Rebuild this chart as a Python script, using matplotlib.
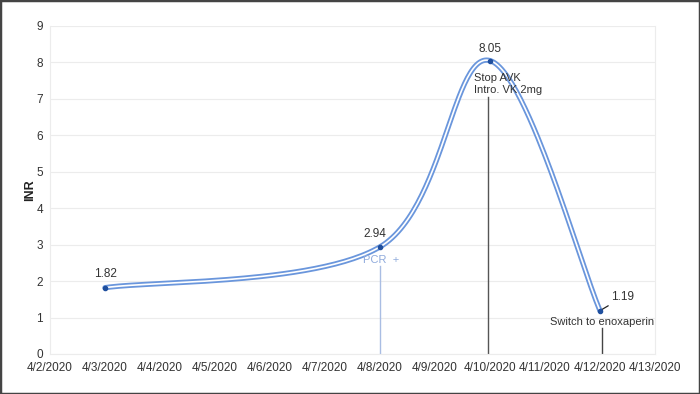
import numpy as np
import matplotlib.pyplot as plt
from matplotlib.patches import Rectangle

plt.rcParams['font.family'] = ['Liberation Sans', 'DejaVu Sans']

# data
days = [1, 6, 8, 10]          # day index, 0 = 4/2/2020
inr = [1.82, 2.94, 8.05, 1.19]
tick_labels = ['4/2/2020', '4/3/2020', '4/4/2020', '4/5/2020', '4/6/2020', '4/7/2020',
               '4/8/2020', '4/9/2020', '4/10/2020', '4/11/2020', '4/12/2020', '4/13/2020']


def smooth(xs, ys, n=60):
    # Catmull-Rom style smoothing like a spreadsheet "smoothed line"
    px = [xs[0]] + list(xs) + [xs[-1]]
    py = [ys[0]] + list(ys) + [ys[-1]]
    ox, oy = [], []
    t = np.linspace(0, 1, n)
    for i in range(1, len(px) - 2):
        p0 = np.array([px[i], py[i]])
        p3 = np.array([px[i + 1], py[i + 1]])
        c1 = p0 + (np.array([px[i + 1], py[i + 1]]) - np.array([px[i - 1], py[i - 1]])) / 6
        c2 = p3 - (np.array([px[i + 2], py[i + 2]]) - np.array([px[i], py[i]])) / 6
        b = (np.outer((1 - t) ** 3, p0) + np.outer(3 * (1 - t) ** 2 * t, c1)
             + np.outer(3 * (1 - t) * t ** 2, c2) + np.outer(t ** 3, p3))
        ox.extend(b[:, 0]); oy.extend(b[:, 1])
    return np.array(ox), np.array(oy)


fig = plt.figure(figsize=(7, 3.94), dpi=100)
ax = fig.add_axes([50 / 700, 40 / 394, 605 / 700, 328 / 394])

sx, sy = smooth(days, inr)
ax.plot(sx, sy, color='#6a96dc', lw=3.8, solid_capstyle='round', zorder=3)
ax.plot(sx, sy, color='white', lw=1.2, zorder=4)
ax.plot(days, inr, 'o', color='#1f4f9e', ms=3, zorder=5)

fs = 8.5
# value labels
ax.text(days[0], inr[0] + 0.2, '1.82', ha='center', va='bottom', fontsize=fs, color='#333333')
ax.text(days[1] - 0.1, inr[1] + 0.2, '2.94', ha='center', va='bottom', fontsize=fs, color='#333333')
ax.text(days[2], inr[2] + 0.15, '8.05', ha='center', va='bottom', fontsize=fs, color='#333333')
ax.annotate('1.19', xy=(days[3], inr[3]), xytext=(days[3] + 0.2, inr[3] + 0.2),
            ha='left', va='bottom', fontsize=fs, color='#333333',
            arrowprops=dict(arrowstyle='-', color='#222222', lw=0.9, shrinkA=0, shrinkB=0))

# event annotations
ax.text(days[1] + 0.02, 2.58, 'PCR  +', ha='center', va='center', fontsize=8, color='#8faadc')
ax.plot([days[1], days[1]], [0, 2.42], color='#a9bde3', lw=1.0, zorder=2)

ax.text(days[2] - 0.3, 7.42, 'Stop AVK\nIntro. VK 2mg', ha='left', va='center', fontsize=8,
        color='#333333', linespacing=1.25, zorder=6)
ax.plot([days[2] - 0.03, days[2] - 0.03], [0, 7.05], color='#555555', lw=1.0, zorder=2)

ax.text(days[3] + 0.03, 0.88, 'Switch to enoxaperin', ha='center', va='center', fontsize=8,
        color='#333333')
ax.plot([days[3] + 0.03, days[3] + 0.03], [0, 0.7], color='#444444', lw=1.0, zorder=2)

ax.set_xlim(0, 11)
ax.set_ylim(0, 9)
ax.set_xticks(range(12))
ax.set_xticklabels(tick_labels, fontsize=fs, color='#333333')
ax.set_yticks(range(10))
ax.set_yticklabels([str(v) for v in range(10)], fontsize=fs, color='#333333')
ax.tick_params(axis='x', length=0, pad=6)
ax.tick_params(axis='y', length=0, pad=5)
ax.set_ylabel('INR', fontsize=9, fontweight='bold', color='#222222', labelpad=0)
ax.yaxis.grid(True, color='#ececec', lw=0.8)
ax.set_axisbelow(True)
ax.spines['top'].set_visible(False)
for s in ['left', 'right', 'bottom']:
    ax.spines[s].set_color('#ececec')
    ax.spines[s].set_linewidth(0.8)

fig.patches.append(Rectangle((0, 0), 1, 1, transform=fig.transFigure, fill=False,
                             edgecolor='#444444', lw=2.5))

fig.savefig('out.png', dpi=100)
